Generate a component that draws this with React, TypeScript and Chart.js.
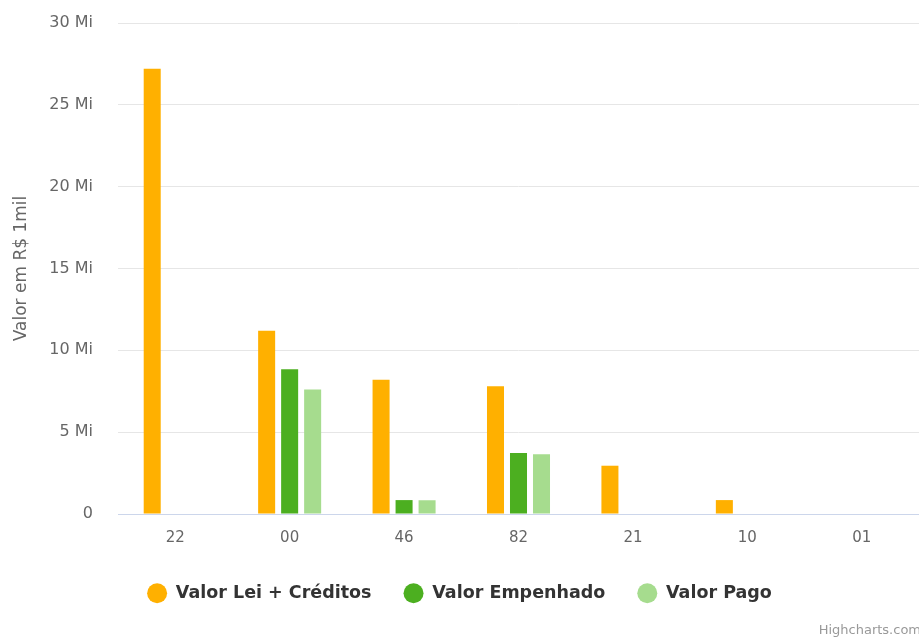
import React, { useEffect, useRef } from "react";
import { Chart, registerables } from "chart.js";

Chart.register(...registerables);

const categories = ["22", "00", "46", "82", "21", "10", "01"];
const valorLei = [27.2, 11.2, 8.2, 7.8, 2.95, 0.85, 0];
const valorEmpenhado = [0, 8.85, 0.85, 3.72, 0, 0, 0];
const valorPago = [0, 7.6, 0.84, 3.65, 0, 0, 0];
const yTicks = [0, 5, 10, 15, 20, 25, 30];

const FONT = "'DejaVu Sans', sans-serif";

const creditPlugin = {
  id: "credit",
  afterDraw(chart: any) {
    const ctx = chart.ctx;
    ctx.save();
    ctx.font = `13px ${FONT}`;
    ctx.fillStyle = "#999999";
    ctx.textAlign = "right";
    ctx.textBaseline = "alphabetic";
    ctx.fillText("Highcharts.com", 921, 634);
    ctx.restore();
  },
};

export default function App() {
  const ref = useRef<HTMLCanvasElement | null>(null);

  useEffect(() => {
    if (!ref.current) return;
    const chart = new Chart(ref.current, {
      type: "bar",
      data: {
        labels: categories,
        datasets: [
          { label: "Valor Lei + Créditos", data: valorLei, backgroundColor: "#FFB000" },
          { label: "Valor Empenhado", data: valorEmpenhado, backgroundColor: "#4CAF20" },
          { label: "Valor Pago", data: valorPago, backgroundColor: "#A6DC8E" },
        ],
      },
      options: {
        animation: false,
        responsive: false,
        maintainAspectRatio: false,
        layout: { padding: { top: 23, right: 0, left: 0, bottom: 25 } },
        datasets: {
          bar: { categoryPercentage: 0.603, barPercentage: 0.74, borderWidth: 0 },
        },
        plugins: {
          tooltip: { enabled: false },
          legend: {
            position: "bottom",
            labels: {
              usePointStyle: true,
              pointStyle: "circle",
              pointStyleWidth: 20,
              boxHeight: 14,
              padding: 32,
              color: "#333333",
              font: { family: FONT, size: 17.5, weight: "bold" },
            },
          },
        },
        scales: {
          x: {
            grid: { display: false },
            border: { display: true, color: "#ccd6eb", width: 1 },
            ticks: { color: "#666666", padding: 7, font: { family: FONT, size: 15 } },
            afterFit(scale: any) {
              scale.height = 38.5;
            },
          },
          y: {
            min: 0,
            max: 30,
            afterBuildTicks(scale: any) {
              scale.ticks = yTicks.map((v) => ({ value: v }));
            },
            grid: {
              drawTicks: true,
              tickLength: 22,
              tickColor: "rgba(0,0,0,0)",
              color: (c: any) => (c.tick && c.tick.value === 0 ? "#ccd6eb" : "#e6e6e6"),
            },
            border: { display: false },
            ticks: {
              color: "#666666",
              padding: 3,
              font: { family: FONT, size: 16 },
              callback: (v: any) => (Number(v) === 0 ? "0" : `${v} Mi`),
            },
            title: {
              display: true,
              text: "Valor em R$ 1mil",
              color: "#666666",
              font: { family: FONT, size: 17 },
              padding: { top: 11, bottom: 0 },
            },
            afterFit(scale: any) {
              scale.width = 118;
            },
          },
        },
      },
      plugins: [creditPlugin],
    } as any);
    return () => chart.destroy();
  }, []);

  return (
    <div style={{ position: "fixed", left: 0, top: 0, width: 919, height: 637, background: "#fff" }}>
      <canvas ref={ref} width={919} height={637} style={{ width: 919, height: 637, display: "block" }} />
    </div>
  );
}
